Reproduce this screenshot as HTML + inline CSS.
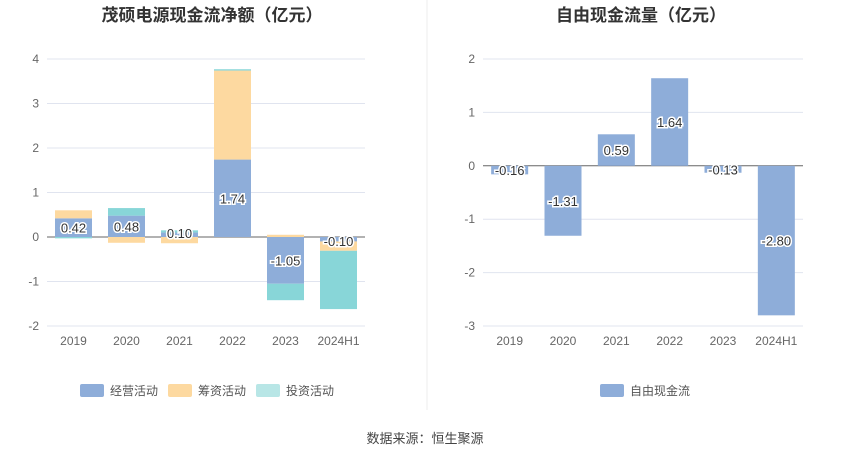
<!DOCTYPE html>
<html><head><meta charset="utf-8"><style>
body{margin:0;background:#fff;font-family:"Liberation Sans","Noto Sans CJK SC",sans-serif;}
svg text{font-family:"Liberation Sans","Noto Sans CJK SC",sans-serif;}
</style></head><body>
<svg id="c" width="850" height="459" xmlns="http://www.w3.org/2000/svg">
<text x="212" y="21" text-anchor="middle" font-size="17" font-weight="bold" fill="#333">茂硕电源现金流净额（亿元）</text>
<text x="641" y="21" text-anchor="middle" font-size="17" font-weight="bold" fill="#333">自由现金流量（亿元）</text>
<line x1="427" y1="0" x2="427" y2="410" stroke="#eee"/>
<g id="L"></g><g id="R"></g>
<rect x="80" y="384" width="24" height="13" rx="2" fill="#8eadd9"/>
<text x="110" y="395" font-size="12" fill="#555">经营活动</text>
<rect x="168" y="384" width="24" height="13" rx="2" fill="#fdd9a0"/>
<text x="198" y="395" font-size="12" fill="#555">筹资活动</text>
<rect x="256" y="384" width="24" height="13" rx="2" fill="#b8e6e6"/>
<text x="286" y="395" font-size="12" fill="#555">投资活动</text>
<rect x="600" y="384" width="24" height="13" rx="2" fill="#8eadd9"/>
<text x="630" y="395" font-size="12" fill="#555">自由现金流</text>
<text x="425" y="443" text-anchor="middle" font-size="13" fill="#444">数据来源：恒生聚源</text>
</svg>
<script>
const categories=["2019","2020","2021","2022","2023","2024H1"];
const operating=[0.42,0.48,0.10,1.74,-1.05,-0.10];
const financing=[0.18,-0.13,-0.14,2.0,0.05,-0.21];
const investing=[-0.03,0.17,0.05,0.03,-0.37,-1.31];
const leftTicks=[4,3,2,1,0,-1,-2];
const fcf=[-0.16,-1.31,0.59,1.64,-0.13,-2.80];
const rightTicks=[2,1,0,-1,-2,-3];
const NS="http://www.w3.org/2000/svg";
function mk(p,t,a){const e=document.createElementNS(NS,t);for(const k in a)e.setAttribute(k,a[k]);p.appendChild(e);return e;}
function axis(g,x0,x1,yTop,yBot,ticks,name){
  const mx=Math.max(...ticks),mn=Math.min(...ticks);
  const y=v=>yTop+(mx-v)/(mx-mn)*(yBot-yTop);
  ticks.forEach(t=>{
    const l=mk(g,"line",{x1:x0,x2:x1,y1:y(t),y2:y(t),stroke:t===0?"#666":"#e0e4ef"});
    
    
    const tx=mk(g,"text",{x:x0-8,y:y(t)+4,"text-anchor":"end","font-size":12,fill:"#666"});
    tx.textContent=t;
    
    
  });
  const bw=(x1-x0)/categories.length;
  const xc=i=>x0+bw*(i+0.5);
  categories.forEach((c,i)=>{
    const tx=mk(g,"text",{x:xc(i),y:yBot+19,"text-anchor":"middle","font-size":12,fill:"#666"});
    tx.textContent=c;
    
    
  });
  return {y,xc,bw};
}
function label(g,x,yy,v,name){
  const t=mk(g,"text",{x:x,y:yy+5,"text-anchor":"middle","font-size":13,fill:"#333",stroke:"#fff","stroke-width":3,"paint-order":"stroke"});
  t.textContent=v.toFixed(2);
  
  
}
// left stacked
(function(){
  const g=document.getElementById("L");
  const a=axis(g,47,365,59,326,leftTicks,"left");
  const W=37;
  categories.forEach((c,i)=>{
    let pos=0,neg=0;
    [[operating,"#8eadd9","operating"],[financing,"#fdd9a0","financing"],[investing,"#88d6d8","investing"]].forEach(([arr,col,nm])=>{
      const v=arr[i];let a0,a1;
      if(v>=0){a0=pos;a1=pos+v;pos=a1;}else{a0=neg;a1=neg+v;neg=a1;}
      const yt=a.y(Math.max(a0,a1)),yb=a.y(Math.min(a0,a1));
      const r=mk(g,"rect",{x:a.xc(i)-W/2,y:yt,width:W,height:Math.max(yb-yt,0.5),fill:col});
      
      
    });
  });
  categories.forEach((c,i)=>{
    const v=operating[i];
    label(g,a.xc(i),a.y(v/2)-(Math.abs(v)<0.3?(v<0?-2:2):0),v,'label-operating-'+c);
  });
})();
(function(){
  const g=document.getElementById("R");
  const a=axis(g,483,803,59,326,rightTicks,"right");
  const W=37;
  categories.forEach((c,i)=>{
    const v=fcf[i];
    const yt=a.y(Math.max(0,v)),yb=a.y(Math.min(0,v));
    const r=mk(g,"rect",{x:a.xc(i)-W/2,y:yt,width:W,height:yb-yt,fill:"#8eadd9"});
    
    
  });
  categories.forEach((c,i)=>label(g,a.xc(i),a.y(fcf[i]/2),fcf[i],'label-fcf-'+c));
})();
</script>
</body></html>
